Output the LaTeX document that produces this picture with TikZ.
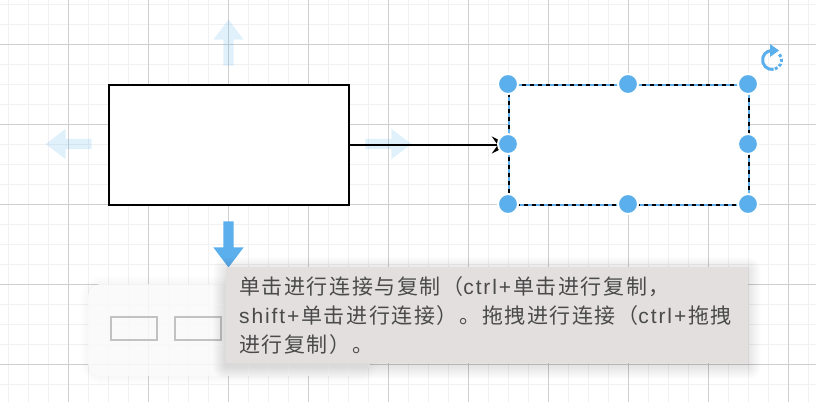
\documentclass[tikz,border=0pt]{standalone}
\usepackage{fontspec}
\setmainfont[Scale=1.05, LetterSpace=9]{Liberation Sans}
\newfontfamily\cjkfont[Scale=1.05, LetterSpace=7.5]{Noto Sans CJK SC}
\usetikzlibrary{arrows.meta, shapes.arrows}

\definecolor{gridminor}{HTML}{F1F1F1}
\definecolor{gridmajor}{HTML}{CFCFCF}
\definecolor{handle}{HTML}{5AAFEC}
\definecolor{tipfill}{HTML}{E3DFDF}
\definecolor{tiptext}{HTML}{4A4A4A}
\definecolor{barfill}{HTML}{FBFBFC}
\definecolor{barbox}{HTML}{C2C2C4}

\tikzset{
  shape box/.style={draw=black, line width=2pt, fill=white, minimum width=240pt, minimum height=120pt, inner sep=0pt},
  grip/.style={circle, fill=handle, draw=white, line width=2pt, minimum size=20pt, inner sep=0pt},
  hint arrow/.style={single arrow, fill=handle, minimum height=46pt, minimum width=30pt,
    single arrow head extend=10pt, single arrow tip angle=74, single arrow head indent=0pt, inner sep=0pt},
  faint/.style={fill opacity=0.18},
  bar box/.style={draw=barbox, line width=2pt, minimum width=46pt, minimum height=23pt, inner sep=0pt},
}
\newcommand{\zh}[1]{{\cjkfont #1}}

\begin{document}
\begin{tikzpicture}[x=1pt, y=-1pt]

    \useasboundingbox (0,0) rectangle (816,402);

    % grid
    \foreach \x in {8.5,28.5,...,808.5} \draw[gridminor, line width=1pt] (\x,0) -- (\x,402);
    \foreach \y in {4.5,24.5,...,394.5} \draw[gridminor, line width=1pt] (0,\y) -- (816,\y);
    \foreach \x in {68.5,148.5,...,788.5} \draw[gridmajor, line width=0.8pt] (\x,0) -- (\x,402);
    \foreach \y in {44.5,124.5,...,364.5} \draw[gridmajor, line width=0.8pt] (0,\y) -- (816,\y);

    % shapes
    \node[shape box] at (229,145) (left) {};
    \node[minimum width=240pt, minimum height=120pt, inner sep=0pt, fill=white] at (629,145) (right) {};
    \draw[black, line width=2pt, dash pattern=on 4pt off 4pt] (right.north west) rectangle (right.south east);
    \draw[handle, line width=2pt, dash pattern=on 4pt off 4pt, dash phase=4pt] (right.north west) rectangle (right.south east);

    % hints
    \node[hint arrow, faint, rotate=90] at (228.5,46) (up) {\rule{0pt}{10pt}};
    \node[hint arrow, faint, rotate=180] at (72,144) (back) {\rule{0pt}{10pt}};
    \node[hint arrow, faint] at (385,144) (forward) {\rule{0pt}{10pt}};
    \node[hint arrow, rotate=-90] at (228.5,241) (down) {\rule{0pt}{10pt}};

    \draw[black, line width=2pt, -{Stealth[inset=6pt, length=17pt, width=17pt]}] (left.east) -- (right.west);

    % handles
    \foreach \name/\px/\py in {nw/508/84, n/628/84, ne/748/84, w/508/144, e/748/144, sw/508/204, s/628/204, se/748/204}
      \node[grip] at (\px,\py) (\name) {};

    % rotate
    \coordinate (turn) at (772,60);
    \draw[handle, line width=3pt] (turn) ++(75:9.5pt) arc (75:280:9.5pt);
    \draw[handle, line width=3pt, dash pattern=on 3pt off 2pt] (turn) ++(-72:9.5pt) arc (-72:45:9.5pt);
    \fill[handle] (770,44) -- (779,50.5) -- (770,57) -- cycle;

    % toolbar
    \foreach \s in {1,...,8}
      \fill[black, opacity=0.003, rounded corners=14pt+\s pt] (88-\s,284-\s) rectangle (370+\s,376+\s);
    \node[fill=barfill, fill opacity=0.85, rounded corners=14pt, minimum width=282pt, minimum height=92pt, inner sep=0pt] at (229,330) (bar) {};
    \node[bar box] at (134,328) (one) {};
    \node[bar box] at (198,328) (two) {};

    % tooltip
    \foreach \s in {1,...,13}
      \fill[black, opacity=0.007, rounded corners=\s pt] (226-\s,270-\s) rectangle (748+\s,366+\s);
    \node[fill=tipfill, anchor=north west, minimum width=522pt, minimum height=96pt, inner sep=0pt] at (226,267) (tip) {};
    \node[anchor=north west, inner sep=0pt, text=tiptext, font=\fontsize{20pt}{29pt}\selectfont, align=left] at (239,276) (tiplabel)
      {\zh{单击进行连接与复制（}ctrl+\hspace{2pt}\zh{单击进行复制，}\\shift+\hspace{2pt}\zh{单击进行连接）。拖拽进行连接（}ctrl+\hspace{2pt}\zh{拖拽}\\\zh{进行复制）。}};

\end{tikzpicture}
\end{document}
